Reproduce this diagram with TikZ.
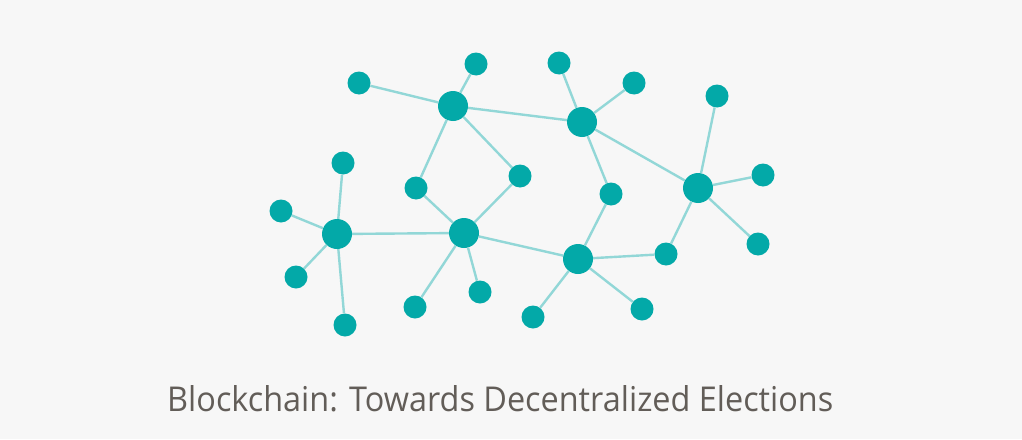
\documentclass[tikz,border=0pt]{standalone}
\usepackage{fontspec}
\setmainfont{Open Sans}
\usepackage{graphicx}
\definecolor{bg}{HTML}{F7F7F7}
\definecolor{teal1}{HTML}{03A9A8}
\definecolor{edgec}{HTML}{92D7D7}
\definecolor{txt}{HTML}{625D58}
\begin{document}
\begin{tikzpicture}[x=1pt,y=-1pt,
  big/.style={circle,fill=teal1,inner sep=0pt,minimum size=30pt},
  small/.style={circle,fill=teal1,inner sep=0pt,minimum size=23pt},
  link/.style={edgec,line width=2.4pt}]
\fill[bg] (0,0) rectangle (1022,439);
\useasboundingbox (0,0) rectangle (1022,439);
% hubs
\node[big] (A) at (453,106) {};
\node[big] (B) at (337,234) {};
\node[big] (C) at (464,233) {};
\node[big] (D) at (582,122) {};
\node[big] (E) at (698,188) {};
\node[big] (F) at (578,259) {};
% leaves
\node[small] (a1) at (476,64) {};
\node[small] (a2) at (359,83) {};
\node[small] (m1) at (416,188) {};
\node[small] (m2) at (520,176) {};
\node[small] (b1) at (343,163) {};
\node[small] (b2) at (281,211) {};
\node[small] (b3) at (296,277) {};
\node[small] (b4) at (345,325) {};
\node[small] (c1) at (415,307) {};
\node[small] (c2) at (480,292) {};
\node[small] (d1) at (559,63) {};
\node[small] (d2) at (634,83) {};
\node[small] (m3) at (611,194) {};
\node[small] (e1) at (717,96) {};
\node[small] (e2) at (763,175) {};
\node[small] (e3) at (758,244) {};
\node[small] (m4) at (666,254) {};
\node[small] (f1) at (533,317) {};
\node[small] (f2) at (642,309) {};
% edges
\foreach \u/\v in {A/a1,A/a2,A/D,A/m1,A/m2,m1/C,m2/C,C/B,C/c1,C/c2,C/F,
  B/b1,B/b2,B/b3,B/b4,D/d1,D/d2,D/E,D/m3,m3/F,F/m4,F/f1,F/f2,m4/E,E/e1,E/e2,E/e3}
  \draw[link] (\u) -- (\v);
\node[anchor=base west,inner sep=0pt,text=txt] (title) at (167,411)
  {\resizebox{666pt}{26pt}{Blockchain: Towards Decentralized Elections}};
\end{tikzpicture}
\end{document}
